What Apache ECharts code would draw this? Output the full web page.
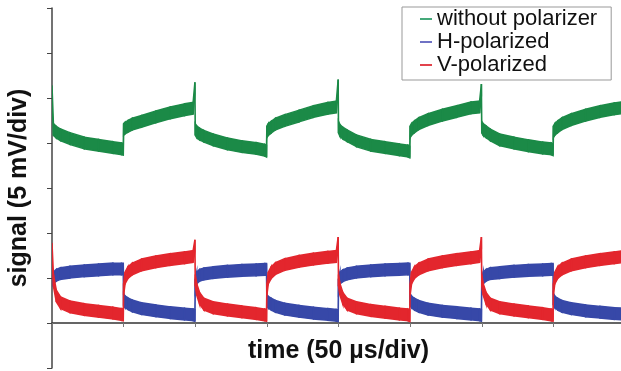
<!DOCTYPE html>
<html lang="en">
<head>
<meta charset="UTF-8">
<title>signal vs time</title>
<script src="https://cdn.jsdelivr.net/npm/echarts@6/dist/echarts.min.js"></script>
<style>
    body { margin: 0; background: #fff; }
    #chart { width: 621px; height: 371px; }
</style>
</head>
<body>
<div id="chart"></div>
<script>
    // time in divisions (50 us/div), signal in divisions (5 mV/div)
    const time = [
        0, 0.02, 0.06, 0.12, 0.25, 0.45, 0.65, 0.85, 0.97, 0.995,
        1, 1.02, 1.06, 1.12, 1.25, 1.45, 1.65, 1.85, 1.97, 1.995,
        2, 2.02, 2.06, 2.12, 2.25, 2.45, 2.65, 2.85, 2.97, 2.995,
        3, 3.02, 3.06, 3.12, 3.25, 3.45, 3.65, 3.85, 3.97, 3.995,
        4, 4.02, 4.06, 4.12, 4.25, 4.45, 4.65, 4.85, 4.97, 4.995,
        5, 5.02, 5.06, 5.12, 5.25, 5.45, 5.65, 5.85, 5.97, 5.995,
        6, 6.02, 6.06, 6.12, 6.25, 6.45, 6.65, 6.85, 6.97, 6.995,
        7, 7.02, 7.06, 7.12, 7.25, 7.45, 7.65, 7.85, 7.95
    ];
    const withoutPolarizer = [
        5.15, 4.3, 4.24, 4.18, 4.1, 4.0, 3.95, 3.9, 3.87, 3.86,
        4.3, 4.33, 4.37, 4.42, 4.48, 4.58, 4.67, 4.74, 4.77, 5.22,
        4.3, 4.25, 4.2, 4.15, 4.07, 3.98, 3.92, 3.88, 3.84, 3.82,
        4.25, 4.3, 4.35, 4.42, 4.5, 4.6, 4.7, 4.77, 4.8, 5.28,
        4.35, 4.28, 4.22, 4.16, 4.05, 3.95, 3.9, 3.85, 3.82, 3.8,
        4.25, 4.3, 4.36, 4.43, 4.52, 4.62, 4.7, 4.78, 4.8, 5.18,
        4.35, 4.3, 4.25, 4.18, 4.07, 4.0, 3.94, 3.89, 3.87, 3.85,
        4.25, 4.3, 4.36, 4.43, 4.52, 4.62, 4.7, 4.76, 4.78
    ];
    const hPolarized = [
        0.95, 1.0, 1.06, 1.1, 1.13, 1.16, 1.18, 1.2, 1.2, 1.2,
        0.52, 0.47, 0.43, 0.38, 0.32, 0.27, 0.23, 0.2, 0.18, 0.17,
        0.85, 1.0, 1.06, 1.09, 1.12, 1.15, 1.17, 1.18, 1.19, 1.19,
        0.5, 0.46, 0.42, 0.37, 0.31, 0.26, 0.22, 0.19, 0.17, 0.16,
        0.85, 1.0, 1.05, 1.09, 1.13, 1.16, 1.18, 1.19, 1.2, 1.2,
        0.52, 0.47, 0.42, 0.37, 0.31, 0.26, 0.23, 0.2, 0.18, 0.17,
        0.85, 1.0, 1.06, 1.1, 1.12, 1.15, 1.17, 1.18, 1.19, 1.19,
        0.53, 0.47, 0.42, 0.37, 0.32, 0.27, 0.24, 0.21, 0.2
    ];
    const vPolarized = [
        1.65, 0.95, 0.6, 0.45, 0.36, 0.3, 0.26, 0.22, 0.19, 0.18,
        0.75, 1.0, 1.12, 1.2, 1.29, 1.36, 1.41, 1.45, 1.48, 1.72,
        0.95, 0.75, 0.55, 0.42, 0.34, 0.29, 0.25, 0.21, 0.18, 0.17,
        0.75, 1.0, 1.12, 1.21, 1.3, 1.37, 1.42, 1.46, 1.48, 1.78,
        0.95, 0.75, 0.55, 0.42, 0.34, 0.28, 0.24, 0.2, 0.18, 0.16,
        0.75, 1.0, 1.12, 1.2, 1.29, 1.36, 1.41, 1.45, 1.48, 1.78,
        0.95, 0.75, 0.55, 0.42, 0.34, 0.29, 0.25, 0.21, 0.18, 0.17,
        0.75, 1.0, 1.12, 1.2, 1.29, 1.36, 1.41, 1.45, 1.47
    ];
    // half thickness of the noise band, in divisions
    const noise = 0.13;

    const font = 'Liberation Sans, Arial, sans-serif';
    const myChart = echarts.init(document.getElementById('chart'));

    // draws the noisy trace as a band between value-noise and value+noise
    function trace(name, values, color) {
        return {
            name: name,
            type: 'custom',
            coordinateSystem: 'cartesian2d',
            clip: true,
            itemStyle: { color: color },
            data: time.map((t, i) => [t, values[i]]),
            renderItem: function (params, api) {
                const i = params.dataIndex;
                if (i >= time.length - 1) return;
                const x0 = api.value(0), y0 = api.value(1);
                const x1 = time[i + 1], y1 = values[i + 1];
                return {
                    type: 'polygon',
                    shape: {
                        points: [
                            api.coord([x0, y0 + noise]),
                            api.coord([x1, y1 + noise]),
                            api.coord([x1, y1 - noise]),
                            api.coord([x0, y0 - noise])
                        ]
                    },
                    style: { fill: color, stroke: color, lineWidth: 1.5 }
                };
            }
        };
    }

    const option = {
        animation: false,
        grid: { left: 52, top: 8, height: 360, width: 573, outerBoundsMode: 'none' },
        legend: {
            orient: 'vertical',
            left: 402,
            top: 7,
            padding: [1, 14, 4, 18],
            itemGap: 1,
            itemWidth: 12,
            itemHeight: 2,
            icon: 'rect',
            borderColor: '#999',
            borderWidth: 1,
            backgroundColor: '#fff',
            textStyle: { fontSize: 22, color: '#111', fontFamily: font },
            data: [
                { name: 'without polarizer', itemStyle: { color: '#45a97a' } },
                { name: 'H-polarized', itemStyle: { color: '#6f72c4' } },
                { name: 'V-polarized', itemStyle: { color: '#e2434c' } }
            ]
        },
        xAxis: {
            type: 'value',
            min: 0,
            max: 8,
            interval: 1,
            name: 'time (50 µs/div)',
            nameLocation: 'middle',
            nameGap: -29,
            nameTextStyle: { fontSize: 25, fontWeight: 'bold', color: '#111', fontFamily: font },
            axisLine: { onZero: true, lineStyle: { color: '#333', width: 1.5 } },
            axisTick: { show: true, length: 4, lineStyle: { color: '#777' } },
            axisLabel: { show: false },
            splitLine: { show: false }
        },
        yAxis: {
            type: 'value',
            min: -1,
            max: 7,
            interval: 1,
            name: 'signal (5 mV/div)',
            nameLocation: 'middle',
            nameGap: 20,
            nameTextStyle: { fontSize: 25, fontWeight: 'bold', color: '#111', fontFamily: font },
            axisLine: { show: true, onZero: false, lineStyle: { color: '#444', width: 1.5 } },
            axisTick: { show: true, length: 5, lineStyle: { color: '#444' } },
            axisLabel: { show: false },
            splitLine: { show: false }
        },
        series: [
            trace('without polarizer', withoutPolarizer, '#1b8a47'),
            trace('H-polarized', hPolarized, '#3748a8'),
            trace('V-polarized', vPolarized, '#e3262d')
        ]
    };

    myChart.setOption(option);
</script>
</body>
</html>
